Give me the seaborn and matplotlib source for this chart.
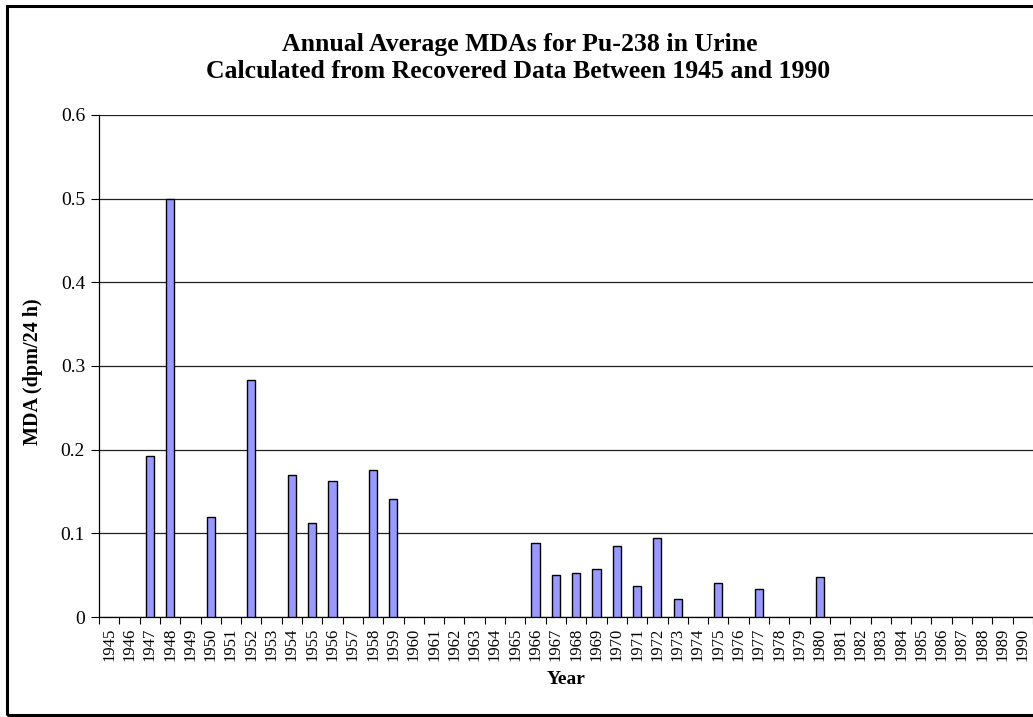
import matplotlib
matplotlib.use("Agg")
import matplotlib.pyplot as plt
import seaborn as sns
import pandas as pd
import numpy as np
from matplotlib.patches import Rectangle

years = [str(y) for y in range(1945, 1991)]
mda_values = {
    "1947": 0.193, "1948": 0.500, "1950": 0.120, "1952": 0.283,
    "1954": 0.170, "1955": 0.112, "1956": 0.162, "1958": 0.176,
    "1959": 0.141, "1966": 0.089, "1967": 0.050, "1968": 0.053,
    "1969": 0.057, "1970": 0.085, "1971": 0.037, "1972": 0.095,
    "1973": 0.022, "1975": 0.041, "1977": 0.034, "1980": 0.048,
}
values = [mda_values.get(y, np.nan) for y in years]
y_ticks = [0, 0.1, 0.2, 0.3, 0.4, 0.5, 0.6]
y_tick_labels = ["0", "0.1", "0.2", "0.3", "0.4", "0.5", "0.6"]

df = pd.DataFrame({"Year": pd.Categorical(years, categories=years), "MDA": values})

sns.set_theme(style="white")
plt.rcParams["font.family"] = ["Liberation Serif", "DejaVu Serif"]
for k in ["text.color", "axes.labelcolor", "xtick.color", "ytick.color"]:
    plt.rcParams[k] = "black"

fig = plt.figure(figsize=(10.33, 7.17), dpi=100)
W, H = 1033, 717
ax = fig.add_axes([99 / W, 1 - 617 / H, (1033 - 99) / W, (617 - 115) / H])

sns.barplot(data=df, x="Year", y="MDA", order=years, width=0.4,
            color="#9999FF", saturation=1, edgecolor="black", linewidth=1.0,
            ax=ax, zorder=3)

ax.set_xlim(-0.5, len(years) - 0.5)
ax.set_ylim(0, 0.6)
ax.set_yticks(y_ticks)
ax.set_yticklabels(y_tick_labels, fontsize=14)
ax.yaxis.grid(True, color="#202020", linewidth=0.9, zorder=0)
ax.xaxis.grid(False)

ax.set_xticks(range(len(years)))
ax.set_xticklabels(years, rotation=90, fontsize=12)
ax.set_xticks(np.arange(-0.5, len(years), 1.0), minor=True)
ax.tick_params(axis="x", which="major", length=0, pad=8)
ax.tick_params(axis="x", which="minor", length=5, width=0.8, color="black", direction="out", bottom=True)
ax.tick_params(axis="y", which="major", length=6, width=0.8, color="black", direction="out", left=True, pad=4)

for s in ["top", "right"]:
    ax.spines[s].set_visible(False)
for s in ["left", "bottom"]:
    ax.spines[s].set_visible(True)
    ax.spines[s].set_color("black")
    ax.spines[s].set_linewidth(0.9)

ax.set_xlabel("Year", fontsize=14, fontweight="bold", labelpad=7)
ax.set_ylabel("MDA (dpm/24 h)", fontsize=14.5, fontweight="bold")
ax.yaxis.set_label_coords((43 - 99) / (1033 - 99), (617 - 372) / (617 - 115))

fig.text(520 / W, 1 - 44 / H, "Annual Average MDAs for Pu-238 in Urine",
         ha="center", va="center", fontsize=18.5, fontweight="bold")
fig.text(518 / W, 1 - 72 / H, "Calculated from Recovered Data Between 1945 and 1990",
         ha="center", va="center", fontsize=18.5, fontweight="bold")

fig.patches.append(Rectangle((6.5 / W, 1 - 714.5 / H), (1100 - 6.5) / W, (714.5 - 6) / H,
                             transform=fig.transFigure, fill=False,
                             edgecolor="black", linewidth=2.2, zorder=10))

fig.savefig("out.png", dpi=100)
